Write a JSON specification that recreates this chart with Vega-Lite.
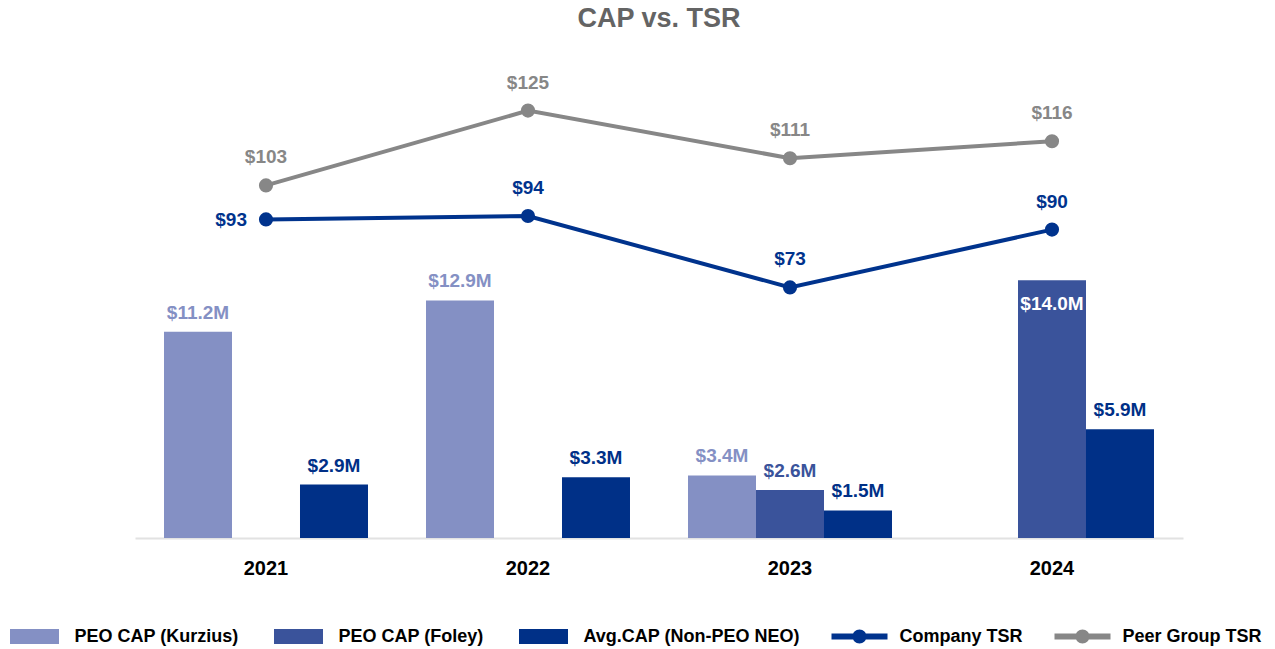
{
  "$schema": "https://vega.github.io/schema/vega-lite/v6.json",
  "width": 1048,
  "height": 442,
  "autosize": {"type": "none"},
  "padding": {"left": 135, "top": 96, "right": 92, "bottom": 111},
  "config": {"view": {"stroke": null}, "font": "Liberation Sans"},
  "title": {"text": "CAP vs. TSR", "fontSize": 27, "fontWeight": "bold", "color": "#646464", "anchor": "middle", "baseline": "alphabetic", "offset": 20, "font": "Liberation Sans"},
  "datasets": {
    "cap": [
      {"year": "2021", "series": "PEO CAP (Kurzius)", "value": 11.2},
      {"year": "2021", "series": "Avg.CAP (Non-PEO NEO)", "value": 2.9},
      {"year": "2022", "series": "PEO CAP (Kurzius)", "value": 12.9},
      {"year": "2022", "series": "Avg.CAP (Non-PEO NEO)", "value": 3.3},
      {"year": "2023", "series": "PEO CAP (Kurzius)", "value": 3.4},
      {"year": "2023", "series": "PEO CAP (Foley)", "value": 2.6},
      {"year": "2023", "series": "Avg.CAP (Non-PEO NEO)", "value": 1.5},
      {"year": "2024", "series": "PEO CAP (Foley)", "value": 14.0},
      {"year": "2024", "series": "Avg.CAP (Non-PEO NEO)", "value": 5.9}
    ],
    "tsr": [
      {"year": "2021", "series": "Company TSR", "tsr": 93},
      {"year": "2022", "series": "Company TSR", "tsr": 94},
      {"year": "2023", "series": "Company TSR", "tsr": 73},
      {"year": "2024", "series": "Company TSR", "tsr": 90},
      {"year": "2021", "series": "Peer Group TSR", "tsr": 103},
      {"year": "2022", "series": "Peer Group TSR", "tsr": 125},
      {"year": "2023", "series": "Peer Group TSR", "tsr": 111},
      {"year": "2024", "series": "Peer Group TSR", "tsr": 116}
    ]
  },
  "encoding": {
    "x": {
      "field": "year", "type": "nominal",
      "scale": {"paddingInner": 0.2214, "paddingOuter": 0.1107},
      "axis": {"title": null, "domainColor": "#e2e2e2", "domainWidth": 2, "ticks": false, "grid": false, "labelAngle": 0, "labelFontSize": 20, "labelFontWeight": "bold", "labelColor": "#000000", "labelPadding": 20, "labelFont": "Liberation Sans"}
    }
  },
  "layer": [
    {
      "data": {"name": "cap"},
      "transform": [{"calculate": "'$' + format(datum.value, '.1f') + 'M'", "as": "label"}],
      "encoding": {
        "xOffset": {"field": "series", "type": "nominal", "scale": {"domain": ["PEO CAP (Kurzius)", "PEO CAP (Foley)", "Avg.CAP (Non-PEO NEO)"], "paddingInner": 0, "paddingOuter": 0}},
        "y": {"field": "value", "type": "quantitative", "scale": {"domain": [0, 24], "nice": false}, "axis": null}
      },
      "layer": [
        {
          "mark": {"type": "bar"},
          "encoding": {
            "color": {
              "field": "series", "type": "nominal",
              "scale": {"domain": ["PEO CAP (Kurzius)", "PEO CAP (Foley)", "Avg.CAP (Non-PEO NEO)", "Company TSR", "Peer Group TSR"], "range": ["#8490c4", "#3a539b", "#003087", "#00338d", "#878787"]},
              "legend": {
                "title": null, "orient": "none", "legendX": -128.5, "legendY": 512.5, "direction": "horizontal", "columns": 5,
                "symbolSize": 3136, "labelFontSize": 18, "labelFont": "Liberation Sans", "labelFontWeight": "bold", "labelColor": "#000000",
                "labelOffset": 12, "columnPadding": 31, "padding": 0, "labelLimit": 400,
                "encode": {"symbols": {"update": {
                  "shape": {"signal": "indexof(['Company TSR','Peer Group TSR'], datum.value) >= 0 ? 'M-1,-0.11H1V0.11H-1Z M0.25,0A0.25,0.25 0 1,1 -0.25,0A0.25,0.25 0 1,1 0.25,0Z' : 'M-0.875,-0.27H0.875V0.27H-0.875Z'"},
                  "fill": {"signal": "scale('color', datum.value)"},
                  "stroke": {"value": "transparent"},
                  "strokeWidth": {"value": 0},
                  "opacity": {"value": 1},
                  "fillOpacity": {"value": 1}
                }}}
              }
            }
          }
        },
        {
          "transform": [{"filter": "datum.value < 13.5"}],
          "mark": {"type": "text", "fontSize": 19, "fontWeight": "bold", "baseline": "alphabetic", "dy": -13, "font": "Liberation Sans"},
          "encoding": {
            "text": {"field": "label"},
            "color": {"field": "series", "type": "nominal"}
          }
        },
        {
          "transform": [{"filter": "datum.value >= 13.5"}],
          "mark": {"type": "text", "fontSize": 19, "fontWeight": "bold", "baseline": "alphabetic", "dy": 30, "color": "#ffffff", "font": "Liberation Sans"},
          "encoding": {
            "text": {"field": "label"}
          }
        }
      ]
    },
    {
      "data": {"name": "tsr"},
      "encoding": {
        "y": {"field": "tsr", "type": "quantitative", "scale": {"domain": [-0.7, 129.3], "nice": false, "zero": false}, "axis": null},
        "color": {"field": "series", "type": "nominal"}
      },
      "layer": [
        {
          "mark": {"type": "line", "strokeWidth": 4, "point": {"filled": true, "size": 200, "opacity": 1}}
        },
        {
          "transform": [{"filter": "!(datum.series == 'Company TSR' && datum.year == '2021')"}],
          "mark": {"type": "text", "fontSize": 19, "fontWeight": "bold", "baseline": "alphabetic", "dy": -22, "font": "Liberation Sans"},
          "encoding": {"text": {"field": "tsr", "format": "$.0f"}}
        },
        {
          "transform": [{"filter": "datum.series == 'Company TSR' && datum.year == '2021'"}],
          "mark": {"type": "text", "fontSize": 19, "fontWeight": "bold", "baseline": "middle", "align": "right", "dx": -19, "dy": 1, "font": "Liberation Sans"},
          "encoding": {"text": {"field": "tsr", "format": "$.0f"}}
        }
      ]
    }
  ],
  "resolve": {"scale": {"y": "independent"}}
}
